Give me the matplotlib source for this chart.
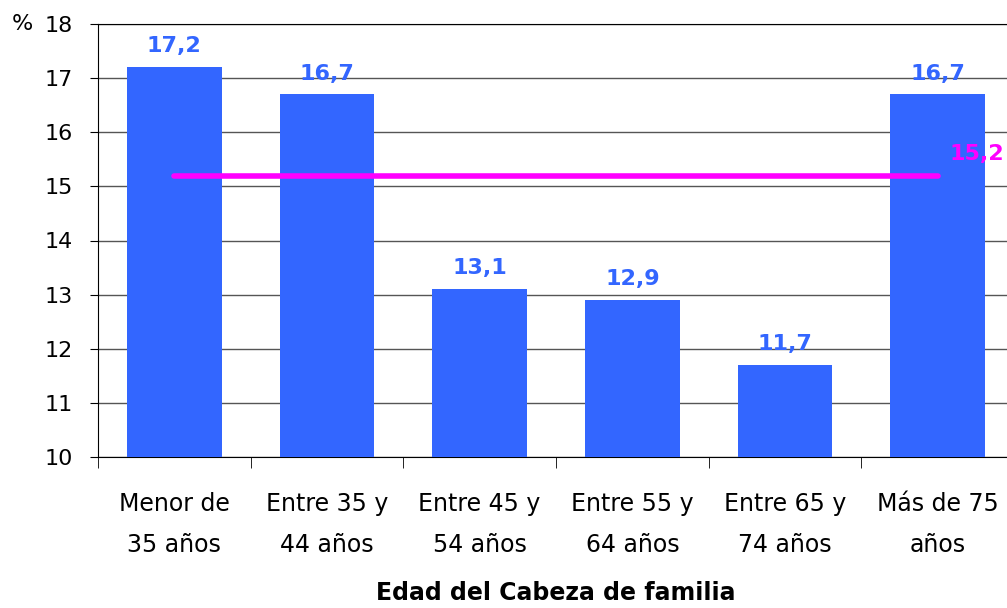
import numpy as np
import matplotlib.pyplot as plt

categories = ['Menor de\n35 años', 'Entre 35 y\n44 años', 'Entre 45 y\n54 años',
              'Entre 55 y\n64 años', 'Entre 65 y\n74 años', 'Más de 75\naños']
values = [17.2, 16.7, 13.1, 12.9, 11.7, 16.7]
media = 15.2

blue = '#3366FF'
magenta = '#FF00FF'

fig = plt.figure(figsize=(10.07, 6.08), dpi=100)
ax = fig.add_axes([98/1007, 151/608, 916/1007, 433/608])

x = np.arange(len(values))
ax.bar(x, values, width=0.62, bottom=0, color=blue, zorder=3)
for xi, v in zip(x, values):
    ax.text(xi, v + 0.2, ('%.1f' % v).replace('.', ','), ha='center', va='bottom',
            color=blue, fontsize=16, fontweight='bold')

ax.plot([x[0], x[-1]], [media, media], color=magenta, lw=4, solid_capstyle='round', zorder=4)
ax.text(x[-1] + 0.08, media + 0.4, ('%.1f' % media).replace('.', ','), ha='left', va='center',
        color=magenta, fontsize=16, fontweight='bold', zorder=5)

ax.set_ylim(10, 18)
ax.set_xlim(-0.5, 5.5)
ax.set_yticks(np.arange(10, 19, 1))
ax.yaxis.grid(True, color='#555555', lw=1)
ax.set_axisbelow(True)
ax.tick_params(axis='y', labelsize=16, length=6, direction='out', pad=12)

ax.set_xticks(x)
ax.set_xticklabels(categories, fontsize=17, linespacing=1.9)
ax.set_xticks(np.arange(-0.5, 6, 1), minor=True)
ax.tick_params(axis='x', which='major', length=0, pad=25)
ax.tick_params(axis='x', which='minor', length=8)

ax.spines['right'].set_visible(False)
ax.spines['top'].set_color('black')

# eje x: titulo pegado al borde inferior como en el original
fig.text(556/1007, 3/608, 'Edad del Cabeza de familia', fontsize=17, fontweight='bold',
         ha='center', va='bottom')
fig.text(22/1007, 1 - 24/608, '%', fontsize=16, ha='center', va='center')

fig.savefig('out.png', dpi=100)
